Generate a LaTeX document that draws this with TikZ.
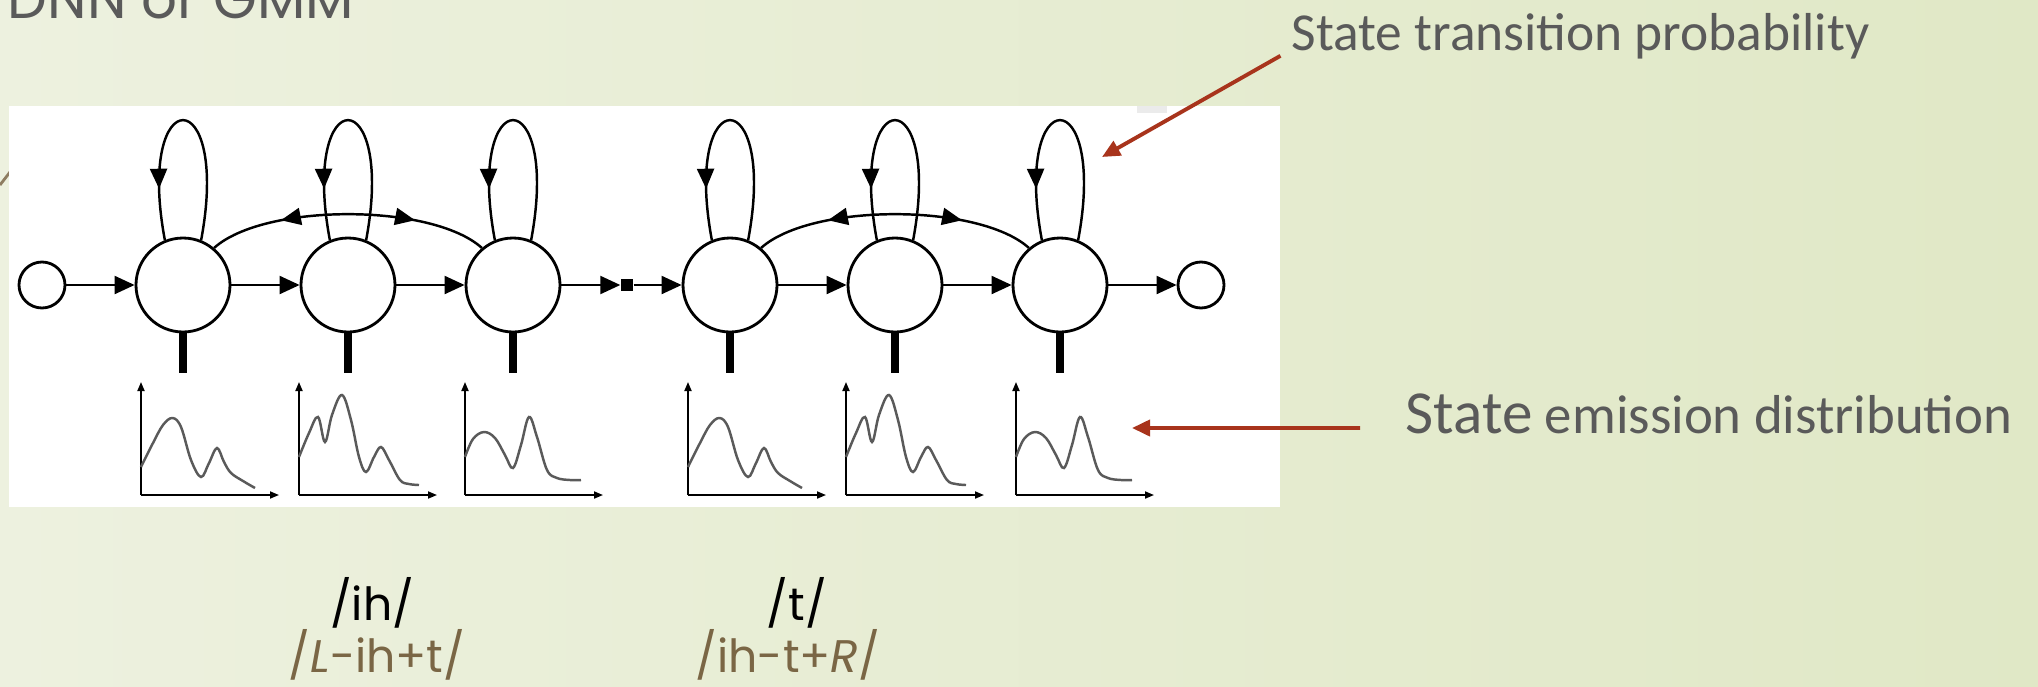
\documentclass[tikz,border=0pt]{standalone}
\usepackage{fontspec}
\newfontfamily\calfont{Carlito}
\newfontfamily\gothfont{Poppins}
\usepackage{xcolor}
\usetikzlibrary{positioning, arrows.meta, decorations.markings}

\definecolor{bgleft}{HTML}{EDF1DF}
\definecolor{bgmid}{HTML}{FCFDF8}
\definecolor{bgright}{HTML}{E0E8C6}
\definecolor{calloutred}{HTML}{A8341C}
\definecolor{labelgray}{HTML}{5A5A5A}
\definecolor{phonebrown}{HTML}{7A6645}
\definecolor{curvegray}{HTML}{5A5A5A}

\begin{document}
\begin{tikzpicture}[
    state/.style={
        draw, 
        circle, 
        minimum size=0.94cm, 
        inner sep=0pt, 
        line width=0.8pt
    },
    endstate/.style={
        draw, 
        circle, 
        minimum size=0.46cm, 
        inner sep=0pt, 
        line width=0.8pt
    },
    gapbox/.style={
        fill=black, 
        minimum size=0.12cm, 
        inner sep=0pt
    },
    arrow/.style={
        -{Triangle[length=0.2cm, width=0.18cm]}, 
        line width=0.6pt
    },
    selfloop/.style={
        line width=0.7pt,
        decoration={markings, mark=at position 0.8 with {\arrow{Triangle[length=0.2cm, width=0.17cm]}}},
        postaction={decorate}
    },
    skiparc/.style={
        line width=0.7pt,
        decoration={markings,
            mark=at position 0.26 with {\arrowreversed{Triangle[length=0.2cm, width=0.17cm]}},
            mark=at position 0.74 with {\arrow{Triangle[length=0.2cm, width=0.17cm]}}},
        postaction={decorate}
    },
    stub/.style={line width=0.08cm},
    axis/.style={-{Triangle[length=0.09cm, width=0.07cm]}, line width=0.5pt},
    density/.style={curvegray, line width=0.7pt, smooth, tension=0.6},
    callout/.style={calloutred, line width=1.1pt, -{Triangle[length=0.18cm, width=0.16cm]}},
    phone/.style={anchor=base, inner sep=0pt, font=\gothfont\fontsize{13}{15}\selectfont}
]

% Slide background
\useasboundingbox (0,0) rectangle (20.38,6.86);
\clip (0,0) rectangle (20.38,6.86);
\shade [left color=bgleft, middle color=bgmid, right color=bgright] (0,0) rectangle (20.38,6.86);
\draw [phonebrown!85, line width=0.8pt] (0,5.01) -- (0.3,5.40);
\fill [white] (0.09,1.79) rectangle (12.80,5.80);
\fill [black!8] (11.37,5.73) rectangle (11.67,5.80);

% Title (cut off at the top)
\node (title) at (3.55,6.68) [anchor=base east, inner sep=0pt, text=labelgray, font=\gothfont\fontsize{16}{18}\selectfont] {DNN or GMM};

% States
\node (start) at (0.42,4.01) [endstate] {};
\node (s1) at (1.83,4.01) [state] {};
\node (s2) at (3.48,4.01) [state] {};
\node (s3) at (5.13,4.01) [state] {};
\node (gap) at (6.27,4.01) [gapbox] {};
\node (s4) at (7.30,4.01) [state] {};
\node (s5) at (8.95,4.01) [state] {};
\node (s6) at (10.60,4.01) [state] {};
\node (stop) at (12.01,4.01) [endstate] {};

% Forward transitions
\draw [arrow] (start) -- (s1);
\draw [arrow] (s1) -- (s2);
\draw [arrow] (s2) -- (s3);
\draw [arrow] (s3) -- (gap);
\draw [arrow] (gap) -- (s4);
\draw [arrow] (s4) -- (s5);
\draw [arrow] (s5) -- (s6);
\draw [arrow] (s6) -- (stop);

% Skip arcs
\draw [skiparc] (s1.50) .. controls +(0.5,0.45) and +(-0.5,0.45) .. (s3.130);
\draw [skiparc] (s4.50) .. controls +(0.5,0.45) and +(-0.5,0.45) .. (s6.130);

% Self loops
\draw [selfloop] (s1.68) .. controls +(0.3,1.6) and +(-0.3,1.6) .. (s1.112);
\draw [selfloop] (s2.68) .. controls +(0.3,1.6) and +(-0.3,1.6) .. (s2.112);
\draw [selfloop] (s3.68) .. controls +(0.3,1.6) and +(-0.3,1.6) .. (s3.112);
\draw [selfloop] (s4.68) .. controls +(0.3,1.6) and +(-0.3,1.6) .. (s4.112);
\draw [selfloop] (s5.68) .. controls +(0.3,1.6) and +(-0.3,1.6) .. (s5.112);
\draw [selfloop] (s6.68) .. controls +(0.3,1.6) and +(-0.3,1.6) .. (s6.112);

% Emission stubs
\draw [stub] (s1.south) -- ++(0,-0.40);
\draw [stub] (s2.south) -- ++(0,-0.40);
\draw [stub] (s3.south) -- ++(0,-0.40);
\draw [stub] (s4.south) -- ++(0,-0.40);
\draw [stub] (s5.south) -- ++(0,-0.40);
\draw [stub] (s6.south) -- ++(0,-0.40);

% Emission distributions: axes
\coordinate (o1) at (1.41,1.91);
\coordinate (o2) at (2.99,1.91);
\coordinate (o3) at (4.65,1.91);
\coordinate (o4) at (6.88,1.91);
\coordinate (o5) at (8.46,1.91);
\coordinate (o6) at (10.16,1.91);
\draw [axis] (o1) -- ++(0,1.13); \draw [axis] (o1) -- ++(1.38,0);
\draw [axis] (o2) -- ++(0,1.13); \draw [axis] (o2) -- ++(1.38,0);
\draw [axis] (o3) -- ++(0,1.13); \draw [axis] (o3) -- ++(1.38,0);
\draw [axis] (o4) -- ++(0,1.13); \draw [axis] (o4) -- ++(1.38,0);
\draw [axis] (o5) -- ++(0,1.13); \draw [axis] (o5) -- ++(1.38,0);
\draw [axis] (o6) -- ++(0,1.13); \draw [axis] (o6) -- ++(1.38,0);

% Emission distributions: curves
\draw [density, shift={(o1)}] plot coordinates {(0,0.28) (0.12,0.52) (0.22,0.70) (0.315,0.77) (0.40,0.68) (0.50,0.35) (0.60,0.18) (0.68,0.32) (0.76,0.47) (0.83,0.33) (0.90,0.22) (1.02,0.14) (1.14,0.07)};
\draw [density, shift={(o2)}] plot coordinates {(0,0.38) (0.10,0.62) (0.19,0.78) (0.26,0.53) (0.33,0.80) (0.43,1.00) (0.52,0.75) (0.60,0.38) (0.67,0.23) (0.75,0.38) (0.82,0.48) (0.90,0.35) (1.01,0.15) (1.10,0.11) (1.20,0.10)};
\draw [density, shift={(o3)}] plot coordinates {(0,0.38) (0.08,0.56) (0.19,0.63) (0.30,0.57) (0.40,0.40) (0.48,0.27) (0.56,0.50) (0.64,0.78) (0.72,0.58) (0.82,0.25) (0.92,0.17) (1.05,0.15) (1.16,0.15)};
\draw [density, shift={(o4)}] plot coordinates {(0,0.28) (0.12,0.52) (0.22,0.70) (0.315,0.77) (0.40,0.68) (0.50,0.35) (0.60,0.18) (0.68,0.32) (0.76,0.47) (0.83,0.33) (0.90,0.22) (1.02,0.14) (1.14,0.07)};
\draw [density, shift={(o5)}] plot coordinates {(0,0.38) (0.10,0.62) (0.19,0.78) (0.26,0.53) (0.33,0.80) (0.43,1.00) (0.52,0.75) (0.60,0.38) (0.67,0.23) (0.75,0.38) (0.82,0.48) (0.90,0.35) (1.01,0.15) (1.10,0.11) (1.20,0.10)};
\draw [density, shift={(o6)}] plot coordinates {(0,0.38) (0.08,0.56) (0.19,0.63) (0.30,0.57) (0.40,0.40) (0.48,0.27) (0.56,0.50) (0.64,0.78) (0.72,0.58) (0.82,0.25) (0.92,0.17) (1.05,0.15) (1.16,0.15)};

% Phone labels
\node (ih) at (3.72,0.66) [phone] {/ih/};
\node (ihctx) at (3.77,0.14) [phone, text=phonebrown] {/\textit{L}-ih+t/};
\node (t) at (7.97,0.66) [phone] {/t/};
\node (tctx) at (7.88,0.14) [phone, text=phonebrown] {/ih-t+\textit{R}/};

% Callouts
\node (translabel) at (12.91,6.36) [anchor=base west, inner sep=0pt, text=labelgray, font=\calfont\fontsize{15.2}{18}\selectfont] {State transition probability};
\coordinate (transtip) at (11.02,5.29);
\draw [callout] ([xshift=-3pt, yshift=1pt]translabel.south west) -- (transtip);

\node (emislabel) at (14.05,2.53) [anchor=base west, inner sep=0pt, text=labelgray, font=\calfont\fontsize{15.6}{18}\selectfont] {{\fontsize{17.4}{20}\selectfont State} emission distribution};
\coordinate (emistip) at (11.32,2.58);
\draw [callout] ([xshift=-0.45cm, yshift=0.05cm]emislabel.base west) -- (emistip);

\end{tikzpicture}
\end{document}
